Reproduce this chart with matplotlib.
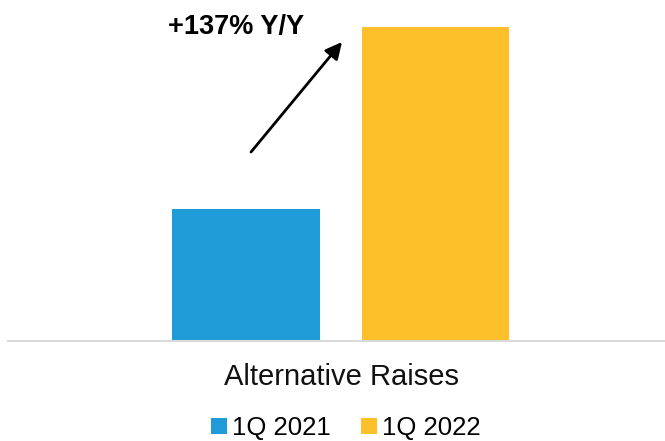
import matplotlib.pyplot as plt
import numpy as np

plt.rcParams['font.family'] = ['Liberation Sans', 'DejaVu Sans']

categories = ['Alternative Raises']
series = ['1Q 2021', '1Q 2022']
values = [1.0, 2.37]
colors = ['#1F9BD7', '#FEC02A']
growth_label = '+137% Y/Y'

fig = plt.figure(figsize=(6.65, 4.41), dpi=100)
ax = fig.add_axes([8 / 665, 100 / 441, 657 / 665, 321 / 441])

x = np.arange(len(series))
for i, (name, val, c) in enumerate(zip(series, values, colors)):
    ax.bar(x[i], val, width=0.78, color=c, label=name)

ax.set_xlim(-1.256, 2.211)
ax.set_ylim(0, 2.423)
ax.set_yticks([])
ax.set_xticks([])
for s in ['top', 'right', 'left']:
    ax.spines[s].set_visible(False)
ax.spines['bottom'].set_color('#D9D9D9')
ax.spines['bottom'].set_linewidth(1.5)

# category label under the axis line
fig.text(341 / 665, 1 - 377 / 441, categories[0], ha='center', va='center',
         fontsize=21, color='#111111')

# growth arrow + label
fig.text(236 / 665, 1 - 27 / 441, growth_label, ha='center', va='center',
         fontsize=19.5, fontweight='bold', color='black')
ax.annotate('', xy=(342 / 665, 1 - 42 / 441), xycoords='figure fraction',
            xytext=(251 / 665, 1 - 152 / 441), textcoords='figure fraction',
            arrowprops=dict(arrowstyle='-|>', color='black', lw=2,
                            mutation_scale=25, shrinkA=0, shrinkB=0))

fig.legend(loc='center', bbox_to_anchor=(346 / 665, 1 - 428 / 441),
           ncol=2, frameon=False, fontsize=18.5, handlelength=0.6,
           handleheight=0.6, handletextpad=0.2, columnspacing=1.2)

plt.savefig('out.png', dpi=100)
